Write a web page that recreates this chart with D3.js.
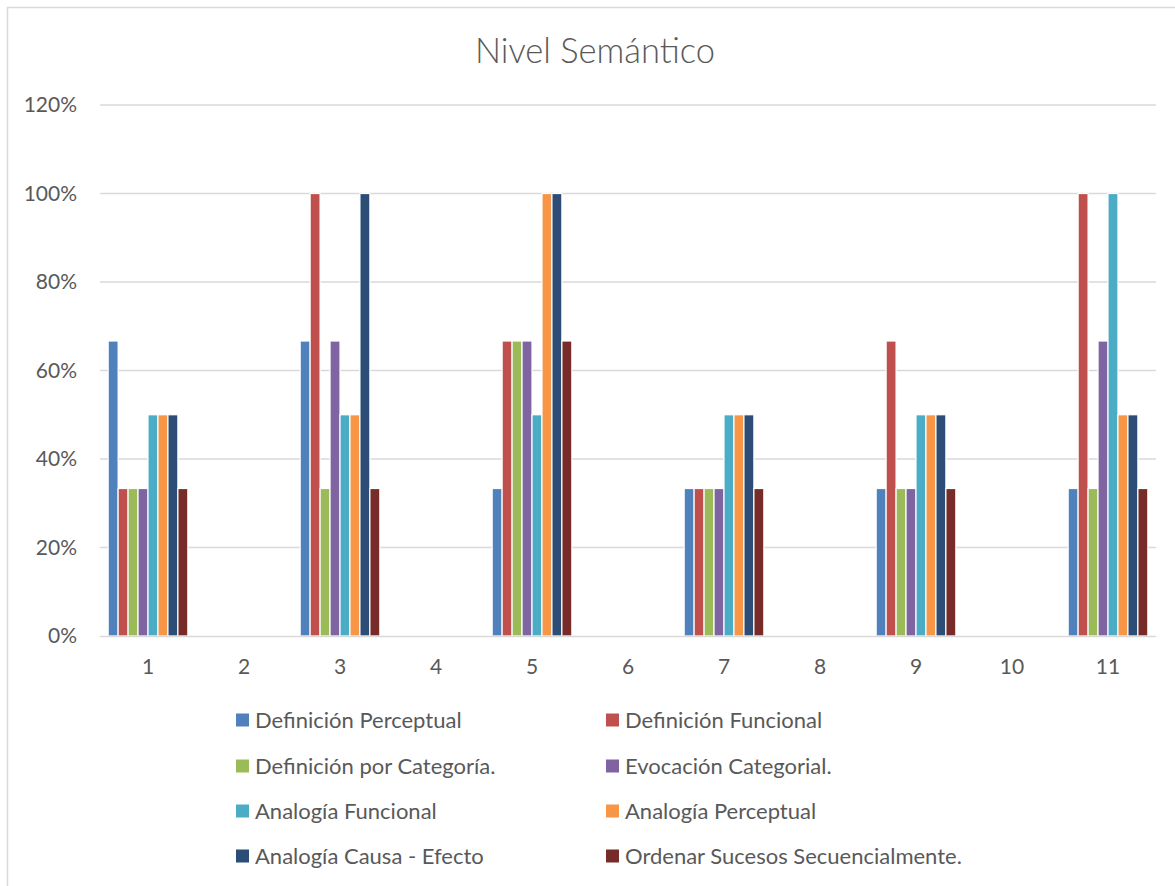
<!DOCTYPE html>
<html><head><meta charset="utf-8">
<script src="https://cdn.jsdelivr.net/npm/d3@7"></script>
<style>
body{margin:0;background:#fff;}
svg{display:block;font-family:Lato,"Open Sans",sans-serif;}
</style></head>
<body>
<svg id="chart" width="1175" height="886"></svg>
<script>
const categories = ["1","2","3","4","5","6","7","8","9","10","11"];
const seriesNames = ["Definición Perceptual","Definición Funcional","Definición por Categoría.","Evocación Categorial.","Analogía Funcional","Analogía Perceptual","Analogía Causa - Efecto","Ordenar Sucesos Secuencialmente."];
const seriesColors = ["#4F81BD","#C0504D","#9BBB59","#8064A2","#4BACC6","#F79646","#2C4D75","#772C2A"];
const t = 1/3, tt = 2/3;
const definicionPerceptual = [tt,0,tt,0,t,0,t,0,t,0,t];
const definicionFuncional = [t,0,1,0,tt,0,t,0,tt,0,1];
const definicionCategoria = [t,0,t,0,tt,0,t,0,t,0,t];
const evocacionCategorial = [t,0,tt,0,tt,0,t,0,t,0,tt];
const analogiaFuncional = [0.5,0,0.5,0,0.5,0,0.5,0,0.5,0,1];
const analogiaPerceptual = [0.5,0,0.5,0,1,0,0.5,0,0.5,0,0.5];
const analogiaCausaEfecto = [0.5,0,1,0,1,0,0.5,0,0.5,0,0.5];
const ordenarSucesos = [t,0,t,0,tt,0,t,0,t,0,t];
const yTicks = [0,0.2,0.4,0.6,0.8,1.0,1.2];
const title = "Nivel Semántico";

const seriesValues = [definicionPerceptual,definicionFuncional,definicionCategoria,evocacionCategorial,analogiaFuncional,analogiaPerceptual,analogiaCausaEfecto,ordenarSucesos];

const svg = d3.select("#chart");
const pLeft = 100, pRight = 1156, pTop = 105, pBottom = 636;
const FONT = "Lato,'Open Sans',sans-serif";

// chart border
svg.append("rect").attr("x",7.5).attr("y",7.5).attr("width",1200).attr("height",1000)
  .attr("fill","none").attr("stroke","#D9D9D9").attr("stroke-width",1.5);

svg.append("text").attr("x",595).attr("y",63).attr("text-anchor","middle")
  .attr("font-size",34.5).attr("font-weight",300).attr("fill","#595959").text(title);

const x = d3.scaleBand().domain(categories).range([pLeft,pRight]).paddingInner(0.17).paddingOuter(0.085);
const xs = d3.scaleBand().domain(d3.range(seriesNames.length)).range([0,x.bandwidth()]);
const y = d3.scaleLinear().domain([0,1.2]).range([pBottom,pTop]);

// gridlines
svg.append("g").selectAll("line").data(yTicks.filter(d=>d>0)).join("line")
  .attr("x1",pLeft).attr("x2",pRight).attr("y1",d=>y(d)).attr("y2",d=>y(d))
  .attr("stroke","#D9D9D9").attr("stroke-width",1.5);

// y axis labels
const yAxis = d3.axisLeft(y).tickValues(yTicks).tickFormat(d3.format(".0%")).tickSize(0).tickPadding(0);
const ga = svg.append("g").attr("transform",`translate(77,0)`).call(yAxis);
ga.select(".domain").remove();
ga.selectAll("text").attr("font-size",21).attr("fill","#595959").attr("font-family",FONT);

// bars
const groups = svg.append("g").selectAll("g").data(categories).join("g")
  .attr("transform",d=>`translate(${x(d)},0)`);
groups.selectAll("rect").data((c,ci)=>seriesValues.map((s,si)=>({si,v:s[ci]})).filter(d=>d.v>0)).join("rect")
  .attr("x",d=>xs(d.si)).attr("width",xs.bandwidth())
  .attr("y",d=>y(d.v)).attr("height",d=>y(0)-y(d.v))
  .attr("fill",d=>seriesColors[d.si]).attr("stroke","#fff").attr("stroke-width",1.2);

// x axis
svg.append("line").attr("x1",pLeft).attr("x2",pRight).attr("y1",pBottom+0.5).attr("y2",pBottom+0.5)
  .attr("stroke","#D9D9D9").attr("stroke-width",1.5);
const xAxis = d3.axisBottom(x).tickSize(0).tickPadding(0);
const gx = svg.append("g").attr("transform",`translate(0,${pBottom+31})`).call(xAxis);
gx.select(".domain").remove();
gx.selectAll("text").attr("font-size",21).attr("fill","#595959").attr("font-family",FONT).attr("dy","0.35em");

// legend
const legendX = [236, 606], legendY = [720, 766, 811, 856];
const lg = svg.append("g").selectAll("g").data(seriesNames).join("g")
  .attr("transform",(d,i)=>`translate(${legendX[i%2]},${legendY[Math.floor(i/2)]})`);
lg.append("rect").attr("x",0).attr("y",-6.5).attr("width",13).attr("height",13).attr("fill",(d,i)=>seriesColors[i]);
lg.append("text").attr("x",19).attr("y",0).attr("dy","0.35em").attr("font-size",22).attr("fill","#595959").text(d=>d);
</script>
</body></html>
